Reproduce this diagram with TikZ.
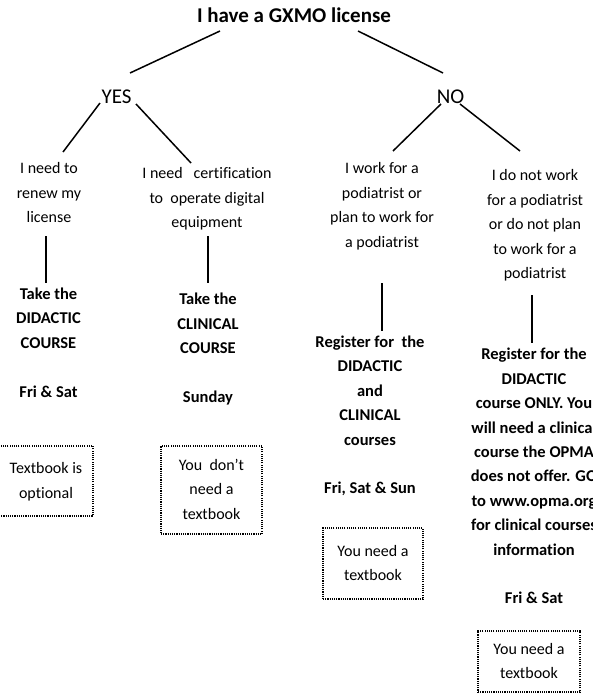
\documentclass[tikz,border=0pt]{standalone}
\usepackage{fontspec}
\setmainfont{Carlito}[Ligatures=NoCommon]
\begin{document}
\begin{tikzpicture}[x=1pt,y=-1pt,
  body/.style={font=\fontsize{16}{24.4}\selectfont, align=center, inner sep=0pt},
  bbody/.style={font=\fontsize{16.5}{24.4}\selectfont\bfseries, align=center, inner sep=0pt},
  titletext/.style={font=\fontsize{21}{24}\selectfont\bfseries, inner sep=0pt, anchor=base},
  answer/.style={font=\fontsize{21}{24}\selectfont, inner sep=0pt, anchor=base},
  conn/.style={line width=1.5pt},
  note/.style={font=\fontsize{16}{24.4}\selectfont, align=center, inner sep=0pt,
    draw, line width=1.1pt, dash pattern=on 1.1pt off 1.1pt},
]
\useasboundingbox (0,0) rectangle (592,696);

% title and answers
\node[titletext] (title) at (294,22.5) {I have a GXMO license};
\node[answer] (yes) at (116.5,103) {YES};
\node[answer] (no) at (450.5,103) {NO};

% situations
\node[body] (s1) at (49,193.5) {\strut I need to\\renew my\\license\strut};
\node[body] (s2) at (207,198.5) {\strut I need\ \ \ certification\\to\ \ operate digital\\equipment\strut};
\node[body] (s3) at (382,205.7) {\strut I work for a\\podiatrist or\\plan to work for\\a podiatrist\strut};
\node[body] (s4) at (535,224.9) {\strut I do not work\\for a podiatrist\\or do not plan\\to work for a\\podiatrist\strut};

% actions
\node[bbody] (a1) at (48.5,343.4) {\strut Take the\\DIDACTIC\\COURSE\\ \\Fri \& Sat\strut};
\node[bbody] (a2) at (208,348.9) {\strut Take the\\CLINICAL\\COURSE\\ \\Sunday\strut};
\node[bbody] (a3) at (370,415.8) {\strut Register for\ \ the\\DIDACTIC\\and\\CLINICAL\\courses\\ \\Fri, Sat \& Sun\strut};
\node[bbody] (a4) at (534,477.1) {\strut Register for the\\DIDACTIC\\course ONLY. You\\will need a clinical\\course the OPMA\\does not offer. GO\\to www.opma.org\\for clinical courses\\information\\ \\Fri \& Sat\strut};

% textbook notes
\node[note, minimum width=94pt, minimum height=70pt] (b1) at (46,481) {\strut Textbook is\\optional\strut};
\node[note, minimum width=101pt, minimum height=88pt] (b2) at (211.5,490) {\strut You\ \ don’t\\need a\\textbook\strut};
\node[note, minimum width=100pt, minimum height=71pt] (b3) at (373,563.5) {\strut You need a\\textbook\strut};
\node[note, minimum width=102pt, minimum height=61pt] (b4) at (529,661.5) {\strut You need a\\textbook\strut};

% connector end points
\coordinate (tL) at (220,31);  \coordinate (yT) at (130,73);
\coordinate (tR) at (358,31);  \coordinate (nT) at (443,73);
\coordinate (yL) at (100,103); \coordinate (s1T) at (63,152);
\coordinate (yR) at (136,104); \coordinate (s2T) at (191,163);
\coordinate (nL) at (441,104); \coordinate (s3T) at (393,151);
\coordinate (nR) at (460,104); \coordinate (s4T) at (520,151);
\coordinate (s1B) at (46,236);  \coordinate (a1T) at (46,283);
\coordinate (s2B) at (208,236); \coordinate (a2T) at (208,283);
\coordinate (s3B) at (382,283); \coordinate (a3T) at (382,331);
\coordinate (s4B) at (532,295); \coordinate (a4T) at (532,343);

\draw[conn] (tL) -- (yT);
\draw[conn] (tR) -- (nT);
\draw[conn] (yL) -- (s1T);
\draw[conn] (yR) -- (s2T);
\draw[conn] (nL) -- (s3T);
\draw[conn] (nR) -- (s4T);
\draw[conn] (s1B) -- (a1T);
\draw[conn] (s2B) -- (a2T);
\draw[conn] (s3B) -- (a3T);
\draw[conn] (s4B) -- (a4T);
\end{tikzpicture}
\end{document}
